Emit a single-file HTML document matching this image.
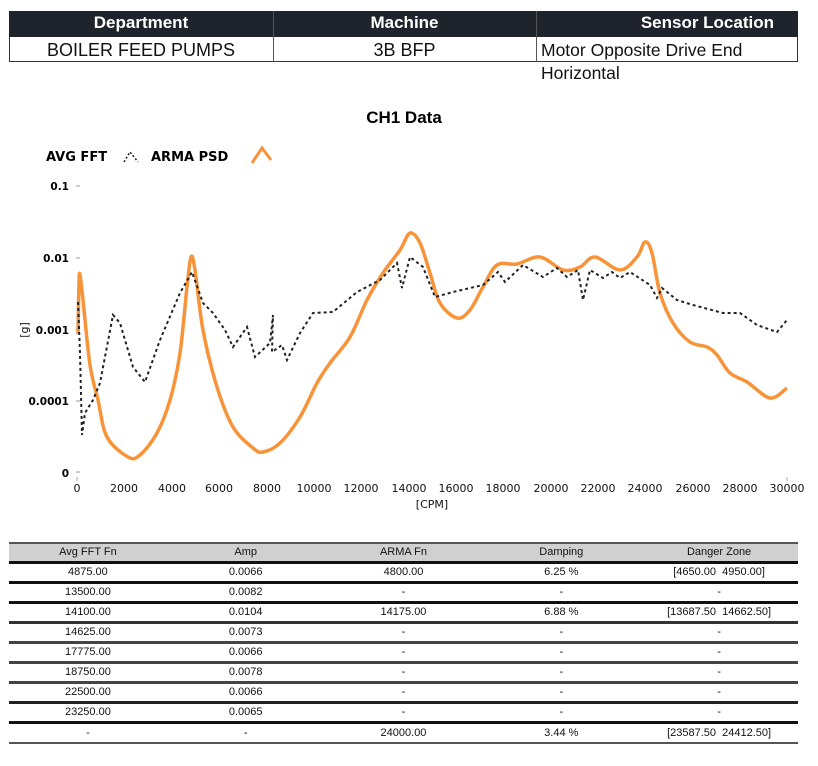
<!DOCTYPE html>
<html><head><style>
body{margin:0;background:#fff;width:818px;height:766px;position:relative;font-family:"Liberation Sans",Arial,sans-serif;overflow:hidden}
.a{position:absolute}
.r{height:17px;line-height:17px;display:flex}
.r div,.h div{flex:1;text-align:center}
</style></head><body>
<div class="a" style="left:9px;top:11px;width:789px;height:26px;background:#1f232b"></div>
<div class="a" style="left:9px;top:37px;width:787px;height:24px;border:1px solid #333;border-top:none"></div>
<div class="a" style="left:273px;top:11px;width:1px;height:51px;background:#555"></div>
<div class="a" style="left:536px;top:11px;width:1px;height:51px;background:#555"></div>
<div class="a" style="left:9px;top:13px;width:264px;text-align:center;color:#fff;font-weight:bold;font-size:17px">Department</div>
<div class="a" style="left:273px;top:13px;width:263px;text-align:center;color:#fff;font-weight:bold;font-size:17px">Machine</div>
<div class="a" style="left:536px;top:13px;width:238px;text-align:right;color:#fff;font-weight:bold;font-size:17px">Sensor Location</div>
<div class="a" style="left:9px;top:40px;width:264px;text-align:center;font-size:18px;color:#111">BOILER FEED PUMPS</div>
<div class="a" style="left:273px;top:40px;width:263px;text-align:center;font-size:18px;color:#111">3B BFP</div>
<div class="a" style="left:541px;top:40px;font-size:17.5px;color:#111">Motor Opposite Drive End</div>
<div class="a" style="left:541px;top:63px;font-size:17.5px;color:#111">Horizontal</div>
<div class="a" style="left:0;top:108px;width:808px;text-align:center;font-weight:bold;font-size:17px">CH1 Data</div>

<svg class="a" style="left:0;top:0" width="818" height="530">
<g font-family="DejaVu Sans,sans-serif" font-size="10.5" font-weight="bold">
<text x="46" y="161" font-size="13">AVG FFT</text>
<path d="M124 162 L130 152 L138 162" stroke="#222" stroke-width="1.5" fill="none" stroke-dasharray="2,2"/>
<text x="151" y="161" font-size="13">ARMA PSD</text>
<path d="M252 163 L262 148 L271 160" stroke="#f7943a" stroke-width="3" fill="none"/>
<g text-anchor="end"><text x="69" y="190">0.1</text><text x="69" y="262">0.01</text><text x="69" y="334">0.001</text><text x="69" y="405">0.0001</text><text x="69" y="477">0</text></g>
<g stroke="#999"><line x1="76" y1="186" x2="80" y2="186"/><line x1="76" y1="258" x2="80" y2="258"/><line x1="76" y1="329" x2="80" y2="329"/><line x1="76" y1="401" x2="80" y2="401"/><line x1="76" y1="472" x2="80" y2="472"/></g>
<g text-anchor="middle" font-weight="normal" font-size="11" fill="#111">
<text x="77" y="492">0</text><text x="124" y="492">2000</text><text x="172" y="492">4000</text><text x="219" y="492">6000</text><text x="267" y="492">8000</text><text x="314" y="492">10000</text><text x="361" y="492">12000</text><text x="409" y="492">14000</text><text x="456" y="492">16000</text><text x="503" y="492">18000</text><text x="551" y="492">20000</text><text x="598" y="492">22000</text><text x="645" y="492">24000</text><text x="693" y="492">26000</text><text x="740" y="492">28000</text><text x="787" y="492">30000</text>
<text x="432" y="508">[CPM]</text>
<text x="28" y="330" transform="rotate(-90 28 330)">[g]</text>
</g>
<g stroke="#aaa"><line x1="77" y1="477" x2="77" y2="481"/><line x1="787" y1="477" x2="787" y2="481"/></g>
</g>
<path id="or" fill="none" stroke="#f7943a" stroke-width="3.5" stroke-linejoin="round" d=""/>
<polyline fill="none" stroke="#222" stroke-width="2" stroke-dasharray="3,3" points="78,302 80,353 82,435 85,413 93,400 100,383 113,315 120,323 133,367 145,382 160,340 180,293 192,272 203,303 213,313 225,330 233,347 247,327 255,357 270,343 273,315 272,352 282,345 287,360 300,333 313,313 333,312 357,292 380,280 397,263 402,288 410,257 423,267 435,297 453,292 483,285 498,272 505,282 523,265 543,277 557,268 567,277 578,270 583,300 590,270 603,278 612,272 620,278 630,272 650,285 657,298 662,288 677,300 693,305 723,313 740,313 757,325 777,332 787,320"/>
</svg>
<script>
var p=[[78,334],[79,282],[80,275],[83,300],[90,365],[98,400],[107,437],[128,457],[140,455],[157,433],[170,400],[180,353],[187,287],[191,257],[195,270],[203,330],[217,387],[233,427],[253,448],[263,452],[280,443],[300,417],[317,383],[330,363],[350,337],[367,300],[383,273],[400,250],[410,233],[420,243],[430,273],[440,303],[457,318],[470,310],[483,287],[497,265],[517,264],[540,257],[563,270],[580,267],[595,257],[620,270],[637,257],[645,242],[652,253],[660,293],[673,323],[690,342],[707,347],[717,355],[730,373],[747,382],[770,398],[787,388]];
var d="M"+p[0];
for(var i=0;i<p.length-1;i++){var a=p[i-1]||p[i],b=p[i],c=p[i+1],e=p[i+2]||c;
d+=" C"+(b[0]+(c[0]-a[0])/6)+","+(b[1]+(c[1]-a[1])/6)+" "+(c[0]-(e[0]-b[0])/6)+","+(c[1]-(e[1]-b[1])/6)+" "+c;}
document.getElementById("or").setAttribute("d",d);
</script>

<div class="a" style="left:9px;top:542px;width:789px">
<div class="h" style="height:17px;background:#d0d0d0;border-top:2px solid #555;border-bottom:3px solid #111;display:flex;font-size:11px;line-height:17px;color:#111">
<div>Avg FFT Fn</div><div>Amp</div><div>ARMA Fn</div><div>Damping</div><div>Danger Zone</div></div>
</div>
<div class="a" style="left:9px;top:564px;width:789px;font-size:11px;color:#111">
<div class="r" style="border-bottom:3px solid #111"><div>4875.00</div><div>0.0066</div><div>4800.00</div><div>6.25 %</div><div>[4650.00 &nbsp;4950.00]</div></div>
<div class="r" style="border-bottom:3px solid #111"><div>13500.00</div><div>0.0082</div><div>-</div><div>-</div><div>-</div></div>
<div class="r" style="border-bottom:3px solid #333"><div>14100.00</div><div>0.0104</div><div>14175.00</div><div>6.88 %</div><div>[13687.50 &nbsp;14662.50]</div></div>
<div class="r" style="border-bottom:3px solid #444"><div>14625.00</div><div>0.0073</div><div>-</div><div>-</div><div>-</div></div>
<div class="r" style="border-bottom:3px solid #444"><div>17775.00</div><div>0.0066</div><div>-</div><div>-</div><div>-</div></div>
<div class="r" style="border-bottom:3px solid #444"><div>18750.00</div><div>0.0078</div><div>-</div><div>-</div><div>-</div></div>
<div class="r" style="border-bottom:3px solid #222"><div>22500.00</div><div>0.0066</div><div>-</div><div>-</div><div>-</div></div>
<div class="r" style="border-bottom:3px solid #111"><div>23250.00</div><div>0.0065</div><div>-</div><div>-</div><div>-</div></div>
<div class="r" style="height:18px;line-height:18px;border-bottom:2px solid #555"><div>-</div><div>-</div><div>24000.00</div><div>3.44 %</div><div>[23587.50 &nbsp;24412.50]</div></div>
</div>
</body></html>
